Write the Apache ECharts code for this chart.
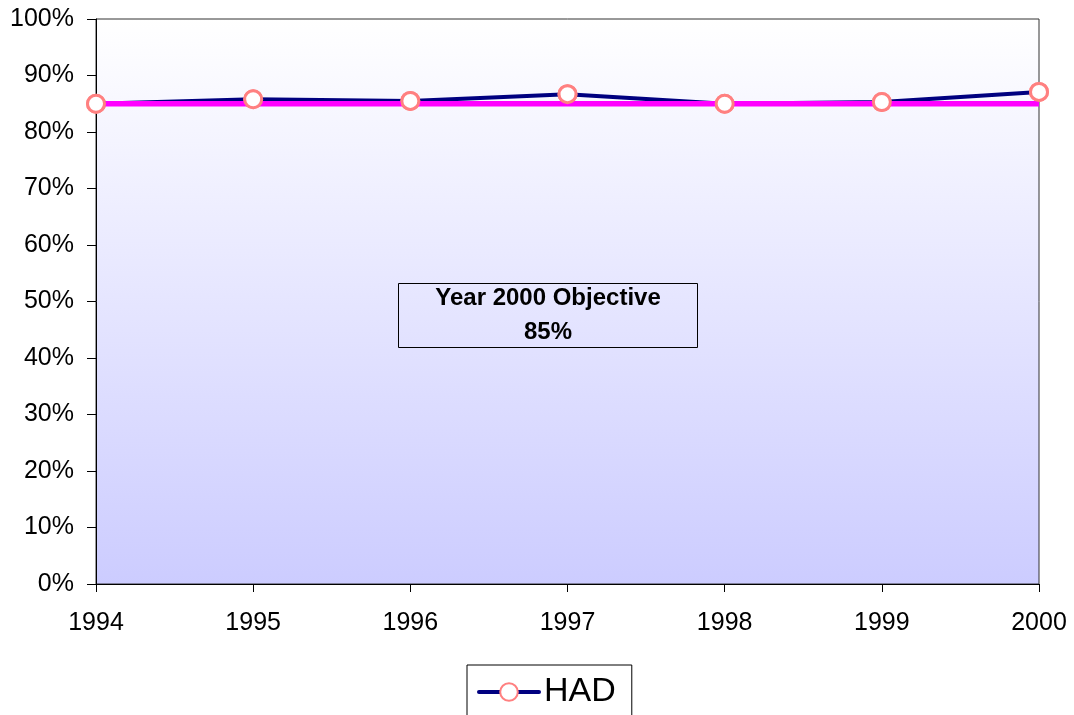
<!DOCTYPE html>
<html>
<head>
<meta charset="utf-8">
<script src="https://cdn.jsdelivr.net/npm/echarts@6/dist/echarts.min.js"></script>
<style>
  html, body { margin: 0; padding: 0; background: #ffffff; }
  #chart { width: 1074px; height: 715px; }
</style>
</head>
<body>
<div id="chart"></div>
<script>
// Years on the category axis
const years = ['1994', '1995', '1996', '1997', '1998', '1999', '2000'];
// HAD share per year (%)
const hadValues = [85.0, 85.8, 85.5, 86.7, 85.0, 85.3, 87.1];
// Year 2000 objective (%), one value per year
const objectiveValue = 85;
const objectiveValues = [85, 85, 85, 85, 85, 85, 85];
// Value axis range and step (%)
const yMin = 0, yMax = 100, yStep = 10;

const FONT = '"Liberation Sans", Arial, sans-serif';

const chart = echarts.init(document.getElementById('chart'), null, { renderer: 'canvas' });

chart.setOption({
  animation: false,
  backgroundColor: '#ffffff',
  grid: {
    left: 96, right: 35, top: 19, bottom: 131,
    show: true,
    borderColor: '#333333',
    borderWidth: 1,
    backgroundColor: new echarts.graphic.LinearGradient(0, 0, 0, 1, [
      { offset: 0, color: '#ffffff' },
      { offset: 1, color: '#ccccff' }
    ])
  },
  xAxis: {
    type: 'category',
    data: years,
    boundaryGap: false,
    axisLine: { lineStyle: { color: '#000000', width: 1 } },
    axisTick: { show: true, length: 8, lineStyle: { color: '#000000' } },
    axisLabel: { color: '#000000', fontFamily: FONT, fontSize: 25, margin: 27 },
    splitLine: { show: false }
  },
  yAxis: {
    type: 'value',
    min: yMin, max: yMax, interval: yStep,
    axisLine: { show: true, lineStyle: { color: '#000000', width: 1 } },
    axisTick: { show: true, length: 9, lineStyle: { color: '#000000' } },
    axisLabel: { color: '#000000', fontFamily: FONT, fontSize: 25, margin: 22, formatter: '{value}%' },
    splitLine: { show: false }
  },
  legend: {
    data: ['HAD'],
    left: 467,
    top: 665,
    orient: 'horizontal',
    itemWidth: 60,
    itemHeight: 22,
    padding: [10, 16, 30, 10],
    borderColor: '#000000',
    borderWidth: 1,
    backgroundColor: '#ffffff',
    lineStyle: { width: 4, cap: 'round' },
    textStyle: { color: '#000000', fontFamily: FONT, fontSize: 34 }
  },
  series: [
    {
      name: 'HAD',
      type: 'line',
      data: hadValues,
      z: 2,
      symbol: 'circle',
      symbolSize: 17,
      showSymbol: true,
      lineStyle: { color: '#000080', width: 4 },
      itemStyle: { color: '#ffffff', borderColor: '#ff8080', borderWidth: 3 }
    },
    {
      name: 'Objective',
      type: 'line',
      data: objectiveValues,
      z: 3,
      symbol: 'none',
      lineStyle: { color: '#ff00ff', width: 5.5 },
      itemStyle: { color: '#ff00ff' }
    },
    {
      // HAD markers drawn above the objective line
      name: 'HAD markers',
      type: 'scatter',
      data: hadValues,
      z: 4,
      symbol: 'circle',
      symbolSize: 17,
      itemStyle: { color: '#ffffff', borderColor: '#ff8080', borderWidth: 3, opacity: 1 }
    }
  ],
  graphic: [
    {
      type: 'rect',
      z: 10,
      shape: { x: 398.5, y: 283.5, width: 299, height: 64 },
      style: { fill: 'rgba(0,0,0,0)', stroke: '#000000', lineWidth: 1 }
    },
    {
      type: 'text',
      z: 11,
      x: 548,
      y: 315,
      style: {
        text: 'Year 2000 Objective\n' + objectiveValue + '%',
        fill: '#000000',
        font: 'bold 24px ' + FONT,
        align: 'center',
        verticalAlign: 'middle',
        lineHeight: 34
      }
    }
  ]
});
</script>
</body>
</html>
